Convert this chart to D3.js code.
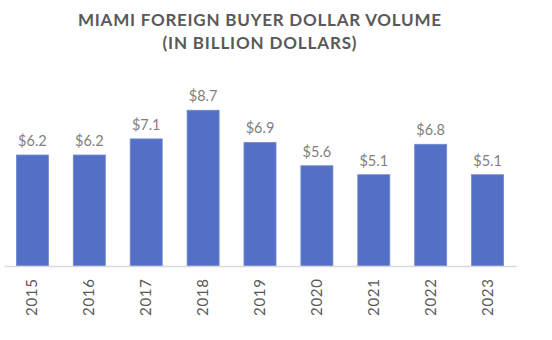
<!DOCTYPE html>
<html>
<head>
<meta charset="utf-8">
<script src="https://cdn.jsdelivr.net/npm/d3@7"></script>
<style>
  html, body { margin: 0; padding: 0; background: #fff; }
  svg { display: block; }
  text { font-family: Lato, "Open Sans", sans-serif; }
</style>
</head>
<body>
<svg id="chart" width="552" height="340"></svg>
<script>
const years = ["2015", "2016", "2017", "2018", "2019", "2020", "2021", "2022", "2023"];
const volumes = [6.2, 6.2, 7.1, 8.7, 6.9, 5.6, 5.1, 6.8, 5.1];
const titleLines = ["MIAMI FOREIGN BUYER DOLLAR VOLUME", "(IN BILLION DOLLARS)"];

const svg = d3.select("#chart");
const axisY = 266;

const x = d3.scaleBand().domain(years).range([4, 516]).paddingInner(0.437).paddingOuter(0.218);
const y = d3.scaleLinear().domain([0, 10]).range([axisY, 87]);

const data = years.map((yr, i) => ({ year: yr, value: volumes[i] }));

// title
const titleBaselines = [25.7, 49];
const titleLengths = [363, 194];
svg.append("g").selectAll("text").data(titleLines).join("text")
  .attr("x", 259.5)
  .attr("y", (d, i) => titleBaselines[i])
  .attr("text-anchor", "middle")
  .attr("font-size", 17)
  .attr("font-weight", 700)
  .attr("fill", "#595959")
  .attr("textLength", (d, i) => titleLengths[i])
  .attr("lengthAdjust", "spacing")
  .text(d => d);

// bars
svg.append("g").selectAll("rect").data(data).join("rect")
  .attr("x", d => x(d.year))
  .attr("y", d => y(d.value))
  .attr("width", x.bandwidth())
  .attr("height", d => axisY - y(d.value))
  .attr("fill", "#5470c6")
  .attr("stroke", "#7289d0")
  .attr("stroke-width", 0.8);

// axis
const xAxis = d3.axisBottom(x).tickSize(0).tickPadding(0);
const gx = svg.append("g").attr("transform", `translate(0,${axisY})`).call(xAxis);
gx.select(".domain").attr("stroke", "#d9d9d9").attr("stroke-width", 1.5);
gx.selectAll(".tick text")
  .attr("transform", "rotate(-90)")
  .attr("x", -13)
  .attr("y", 0)
  .attr("dy", "0.33em")
  .attr("text-anchor", "end")
  .attr("font-family", "Lato, 'Open Sans', sans-serif")
  .attr("font-size", 15)
  .attr("fill", "#595959")
  .attr("textLength", 37)
  .attr("lengthAdjust", "spacing");

// value labels
svg.append("g").selectAll("text").data(data).join("text")
  .attr("x", d => x(d.year) + x.bandwidth() / 2)
  .attr("y", d => y(d.value) - 9)
  .attr("text-anchor", "middle")
  .attr("font-size", 14.5)
  .attr("fill", "#7f7f7f")
  .text(d => "$" + d3.format(".1f")(d.value));
</script>
</body>
</html>
